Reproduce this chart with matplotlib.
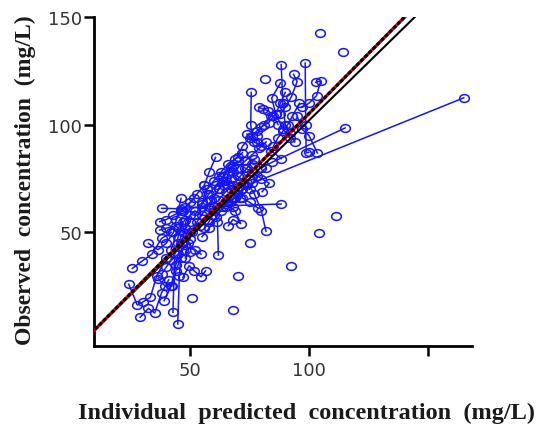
import matplotlib
matplotlib.use("Agg")
import matplotlib.pyplot as plt
import numpy as np
from matplotlib.path import Path
from matplotlib.markers import MarkerStyle
from matplotlib.transforms import Affine2D

# ---------------- data ----------------
subject = [
    1, 1, 1, 1,
    2, 2, 2, 2, 2, 2,
    3, 3, 3, 3, 3,
    4, 4, 4, 4, 4,
    5, 5, 5, 5,
    6, 6, 6, 6, 6,
    7, 7, 7, 7, 7,
    8, 8, 8, 8, 8,
    9, 9, 9, 9, 9,
    10, 10, 10, 10, 10,
    11, 11, 11, 11, 11,
    12, 12, 12, 12, 12,
    13, 13, 13, 13, 13,
    14, 14, 14, 14, 14,
    15, 15, 15, 15, 15,
    16, 16, 16, 16, 16,
    17, 17, 17, 17, 17,
    18, 18, 18, 18, 18,
    19, 19, 19, 19, 19,
    20, 20, 20, 20, 20,
    21, 21, 21, 21, 21,
    22, 22, 22, 22, 22,
    23, 23, 23, 23,
    24, 24, 24, 24,
    25, 25, 25, 25,
    26, 26, 26, 26, 26,
    27, 27, 27, 27,
    28, 28, 28, 28, 28,
    29, 29, 29, 29, 29,
    30, 30, 30, 30, 30,
    31, 31, 31, 31, 31,
    32, 33, 34, 35, 36, 37, 38, 39, 40, 41,
    42, 42, 42, 42, 42, 42,
    43, 43, 43, 43, 43, 43,
    44, 44, 44, 44, 44, 44,
    45, 45, 45, 45, 45, 45,
    46, 46, 46, 46, 46, 46,
    47, 47, 47, 47, 47, 47,
    48, 48, 48, 48, 48, 48,
    49, 49, 49, 49, 49,
    50, 50, 50, 50, 50, 50,
    51, 51, 51, 51, 51, 51,
    52, 52, 52, 52, 52, 52,
    53, 53, 53, 53, 53, 53,
    54, 54, 54, 54, 54,
    55, 55, 55, 55, 55, 55,
    56, 56, 56, 56, 56, 56,
    57, 57, 57, 57, 57, 57,
]

ipred = [
    38.0, 46.0, 55.0, 88.3,
    24.2, 27.8, 30.0, 33.3, 36.0, 40.0,
    25.7, 29.7, 34.0, 38.0, 42.0,
    29.0, 32.5, 35.1, 38.0, 41.0,
    42.8, 43.5, 45.0, 47.0,
    44.8, 45.5, 46.5, 48.0, 50.0,
    39.1, 42.0, 44.0, 47.0, 50.0,
    32.5, 36.5, 40.0, 43.0, 46.2,
    37.2, 40.0, 43.0, 47.0, 51.7,
    37.2, 40.0, 44.0, 47.0, 50.0,
    38.0, 40.0, 42.0, 45.0, 48.0,
    36.5, 39.4, 42.3, 44.0, 46.0,
    47.0, 49.6, 51.7, 54.6, 56.5,
    54.6, 52.0, 49.0, 48.0, 50.0,
    61.9, 61.5, 60.0, 58.0, 56.0,
    66.1, 68.0, 71.3, 69.0, 65.0,
    78.6, 75.0, 72.0, 70.0, 67.0,
    80.3, 83.3, 80.0, 76.0, 73.0,
    81.9, 80.0, 77.0, 74.0, 70.0,
    60.7, 58.0, 56.0, 57.0, 55.0,
    88.3, 84.0, 80.0, 77.0, 73.9,
    165.1, 76.1, 72.0, 68.0, 65.0,
    115.2, 84.3, 80.0, 76.0,
    98.4, 98.6, 98.8, 99.9,
    103.5, 100.0, 97.0, 95.0,
    88.3, 89.0, 90.0, 92.0, 94.0,
    75.7, 75.5, 76.0, 78.0,
    78.8, 80.7, 82.9, 85.0, 87.0,
    93.5, 95.0, 92.6, 90.0, 88.0,
    102.8, 104.9, 103.2, 100.0, 97.0,
    88.0, 84.3, 86.0, 89.0, 92.0,
    104.6, 114.3, 111.2, 104.3, 92.3, 68.0, 75.1, 70.3, 50.6, 81.4,
    50.0, 53.0, 56.0, 59.0, 62.0, 65.0,
    52.0, 55.0, 58.0, 61.0, 64.0, 67.0,
    55.0, 58.0, 61.0, 64.0, 67.0, 70.0,
    57.0, 60.0, 63.0, 66.0, 69.0, 72.0,
    62.0, 65.0, 68.0, 71.0, 74.0, 77.0,
    60.0, 63.0, 66.0, 69.0, 72.0, 75.0,
    45.0, 48.0, 51.0, 54.0, 57.0, 60.0,
    42.0, 45.0, 48.0, 52.0, 55.0,
    67.0, 70.0, 73.0, 76.0, 79.0, 82.0,
    70.0, 72.0, 75.0, 78.0, 81.0, 84.0,
    78.0, 80.0, 83.0, 86.0, 88.0, 90.0,
    85.0, 87.0, 89.0, 91.0, 93.0, 96.0,
    64.0, 66.0, 68.0, 70.0, 62.0,
    44.0, 46.0, 48.0, 50.0, 53.0, 56.0,
    58.0, 60.0, 62.0, 64.0, 66.0, 68.0,
    68.0, 71.0, 73.0, 75.0, 78.0, 82.0,
]

obs = [
    61.2, 61.0, 62.0, 63.2,
    26.0, 16.3, 17.6, 19.9, 30.0, 38.0,
    33.3, 36.6, 40.0, 47.2, 50.0,
    10.6, 14.8, 12.6, 22.0, 28.0,
    12.9, 40.0, 48.0, 55.0,
    7.5, 30.0, 45.0, 52.0, 58.0,
    18.3, 25.0, 35.0, 42.0, 47.0,
    44.9, 42.0, 45.0, 50.0, 65.8,
    55.0, 56.0, 58.0, 60.0, 65.8,
    51.1, 52.0, 53.0, 50.0, 55.0,
    30.6, 34.0, 37.0, 40.0, 44.0,
    28.6, 25.2, 25.0, 32.0, 38.0,
    29.1, 34.6, 32.2, 29.4, 32.2,
    39.9, 42.0, 45.0, 38.0, 41.0,
    39.5, 55.0, 60.0, 55.0, 52.0,
    53.1, 56.0, 54.1, 60.0, 63.0,
    61.3, 64.0, 66.0, 68.0, 70.0,
    68.9, 72.8, 75.0, 78.0, 80.0,
    50.5, 60.0, 68.0, 73.0, 76.0,
    84.8, 78.0, 72.0, 68.0, 64.0,
    84.3, 88.0, 90.0, 92.0, 95.7,
    112.5, 72.8, 70.0, 66.0, 62.0,
    98.5, 82.5, 80.0, 82.0,
    128.6, 100.0, 87.0, 87.2,
    86.9, 95.0, 98.0, 104.0,
    127.9, 110.0, 100.0, 96.0, 92.0,
    115.0, 100.0, 95.0, 92.0,
    108.1, 107.3, 106.5, 104.0, 100.0,
    123.4, 120.0, 113.0, 108.0, 105.0,
    119.7, 120.4, 113.5, 110.0, 108.0,
    119.4, 112.4, 105.0, 98.0, 94.0,
    142.6, 133.6, 57.8, 49.7, 34.6, 14.1, 44.9, 29.6, 19.4, 121.2,
    50.0, 55.0, 60.0, 65.0, 70.0, 74.0,
    58.0, 63.0, 68.0, 72.0, 76.0, 80.0,
    48.0, 52.0, 57.0, 62.0, 66.0, 71.0,
    70.0, 74.0, 78.0, 82.0, 84.0, 87.0,
    65.0, 69.0, 72.0, 76.0, 80.0, 84.0,
    58.0, 60.0, 64.0, 66.0, 70.0, 75.0,
    45.0, 48.0, 50.0, 53.0, 56.0, 62.0,
    42.0, 52.0, 56.0, 60.0, 58.0,
    75.0, 80.0, 83.0, 86.0, 89.0, 92.0,
    85.0, 90.0, 94.0, 97.0, 100.0, 104.0,
    95.0, 99.0, 101.0, 105.0, 110.0, 115.0,
    90.0, 94.0, 97.0, 100.0, 104.0, 110.0,
    72.0, 77.0, 81.0, 83.0, 76.0,
    56.0, 60.0, 62.0, 64.0, 68.0, 72.0,
    62.0, 66.0, 70.0, 74.0, 72.0, 78.0,
    62.0, 66.0, 72.0, 70.0, 76.0, 80.0,
]

# reference lines: [intercept, slope]
identity_line = [-5.9, 1.079]
fit_line = [-6.2, 1.114]

x_ticks = [50, 100, 150]
x_tick_labels = ["50", "100", ""]
y_ticks = [50, 100, 150]
y_tick_labels = ["50", "100", "150"]

# ---------------- plot ----------------
fig = plt.figure(figsize=(5.4, 4.27), dpi=100)
ax = fig.add_axes([94 / 540, 1 - 347 / 427, (471.7 - 94) / 540, (347 - 18) / 427])

circ = Path.unit_circle()
ell = circ.transformed(Affine2D().scale(1.0, 0.8))
marker = MarkerStyle(ell)

blue = "#1414ff"
n = min(len(subject), len(ipred), len(obs))
sub = np.array(subject[:n])
xs = np.array(ipred[:n])
ys = np.array(obs[:n])
for s in np.unique(sub):
    m = sub == s
    ax.plot(xs[m], ys[m], color=blue, lw=1.1, zorder=2,
            marker=marker, ms=7.0, mfc="none", mec=blue, mew=1.1)

xl = np.array([0, 200])
ax.plot(xl, identity_line[0] + identity_line[1] * xl, color="black", lw=1.5, zorder=4)
ax.plot(xl, fit_line[0] + fit_line[1] * xl, color="#ff0000", lw=2.4, zorder=5)
ax.plot(xl, fit_line[0] + fit_line[1] * xl, color="black", lw=2.2,
        linestyle=(0, (0.6, 1.3)), dash_capstyle="round", zorder=6)

ax.set_xlim(9.6, 168.4)
ax.set_ylim(-2.7, 150)

ax.spines["top"].set_visible(False)
ax.spines["right"].set_visible(False)
ax.spines["left"].set_linewidth(2.0)
ax.spines["bottom"].set_linewidth(2.0)

ax.set_xticks(x_ticks)
ax.set_xticklabels(x_tick_labels)
ax.set_yticks(y_ticks)
ax.set_yticklabels(y_tick_labels)
ax.tick_params(axis="both", length=7.5, width=1.8, labelsize=13, colors="black",
               labelcolor="#333333")
ax.tick_params(axis="x", pad=3)
ax.tick_params(axis="y", pad=1)

for lab in ax.get_xticklabels() + ax.get_yticklabels():
    lab.set_family("DejaVu Sans")

fig.text(307 / 540, 1 - 413 / 427,
         "Individual  predicted  concentration  (mg/L)",
         ha="center", va="center", fontsize=17.5, fontweight="bold",
         family="Liberation Serif", color="#1a1a1a")
fig.text(25 / 540, 1 - 180 / 427,
         "Observed  concentration  (mg/L)",
         ha="center", va="center", rotation=90, fontsize=17, fontweight="bold",
         family="Liberation Serif", color="#1a1a1a")

fig.savefig("out.png", dpi=100)
